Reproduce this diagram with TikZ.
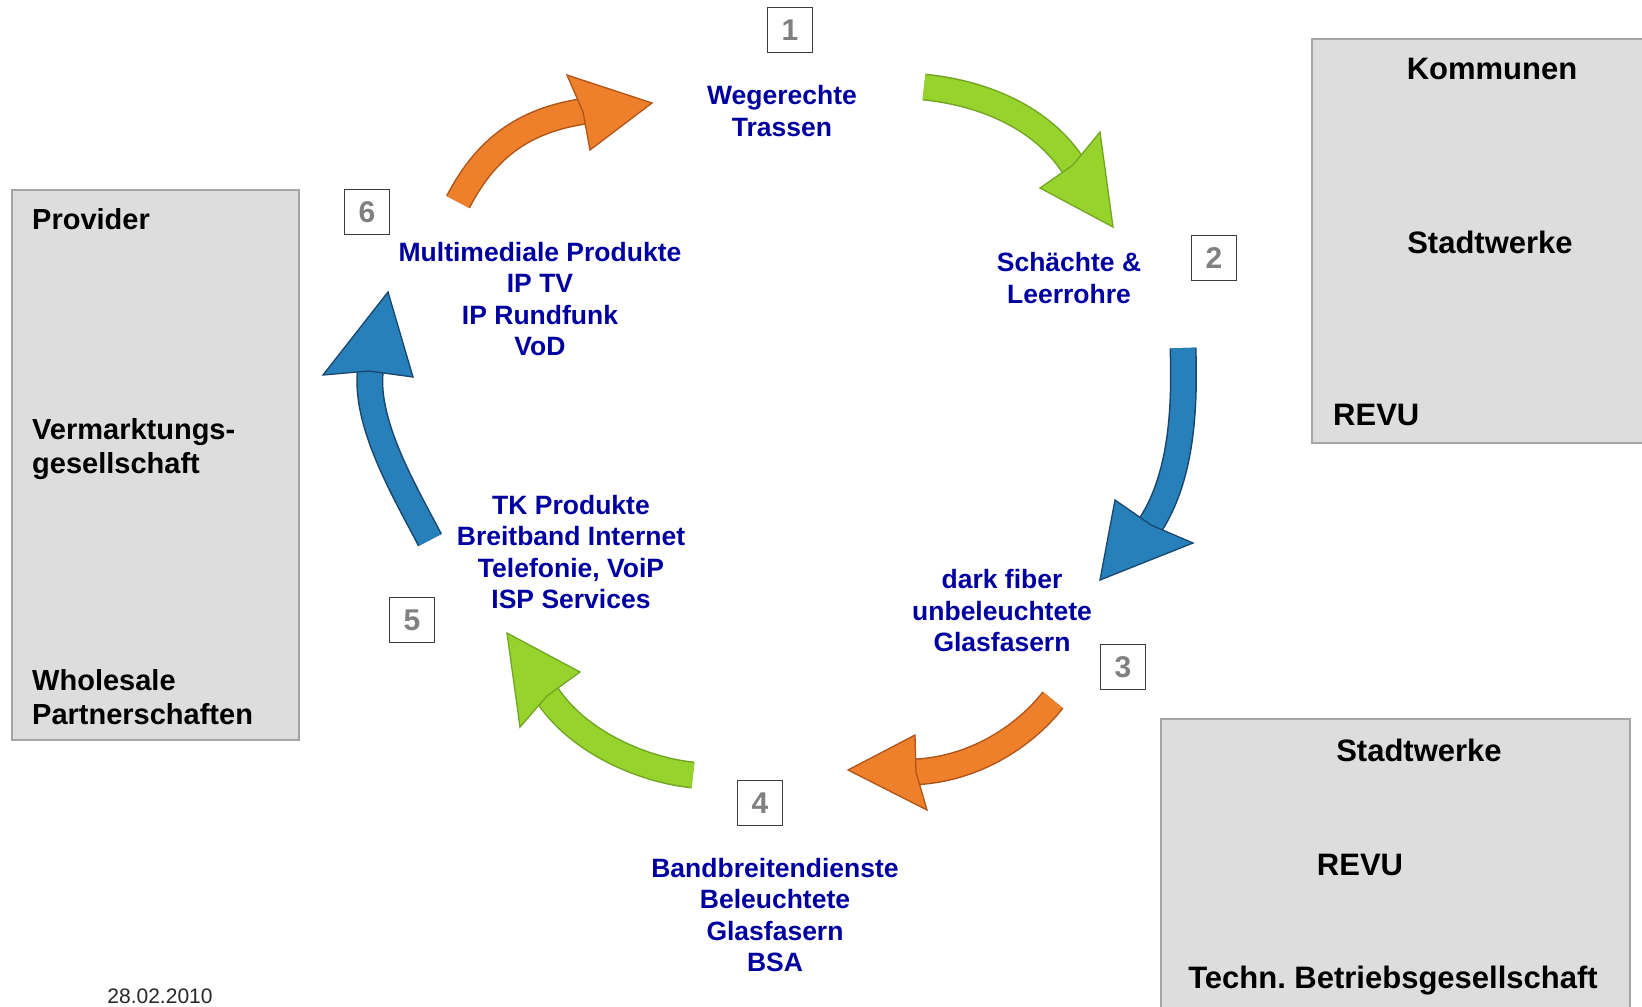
\documentclass[tikz,border=0pt]{standalone}
\usepackage{fontspec}
\setmainfont{Liberation Sans}
\frenchspacing
\definecolor{bluetxt}{RGB}{0,0,160}
\definecolor{boxgray}{RGB}{221,221,221}
\definecolor{boxedge}{RGB}{165,165,165}
\definecolor{numgray}{RGB}{128,128,128}
\definecolor{numedge}{RGB}{60,60,60}
\definecolor{orangef}{RGB}{238,128,44}
\definecolor{oranged}{RGB}{175,85,25}
\definecolor{greenf}{RGB}{150,212,45}
\definecolor{greend}{RGB}{115,165,35}
\definecolor{bluef}{RGB}{40,128,186}
\definecolor{blued}{RGB}{25,70,110}
\tikzset{
  graybox/.style={fill=boxgray,draw=boxedge,line width=1.2pt},
  numbox/.style={draw=numedge,line width=1.3pt,minimum width=45pt,minimum height=45pt,inner sep=0pt,
    text=numgray,font=\fontsize{30}{30}\selectfont\bfseries},
  bluetext/.style={text=bluetxt,align=center,inner sep=0pt,font=\fontsize{26.5}{31.5}\selectfont\bfseries},
  blacktext/.style={text=black,inner sep=0pt,font=\fontsize{31}{34}\selectfont\bfseries},
  lefttext/.style={text=black,inner sep=0pt,anchor=west,align=left,font=\fontsize{29}{34.5}\selectfont\bfseries},
  shaftout/.style={line width=27pt},
  shaftin/.style={line width=24pt},
  headstyle/.style={line width=1.3pt,line join=miter},
}
\begin{document}
\begin{tikzpicture}[x=1pt,y=-1pt]
\useasboundingbox (0,0) rectangle (1642,1007);
\clip (0,0) rectangle (1642,1007);
\fill[white] (0,0) rectangle (1642,1007);

% gray boxes
\draw[graybox] (12,190) rectangle (299,740);
\draw[graybox] (1312,39) rectangle (1660,443);
\draw[graybox] (1161,719) rectangle (1630,1020);

% left box text
\node[lefttext] (prov) at (32,219) {Provider};
\node[lefttext] (verm) at (32,449) {Vermarktungs-\\gesellschaft};
\node[lefttext] (whole) at (32,697) {Wholesale\\Partnerschaften};

% right top box text
\node[blacktext] (komm) at (1492,69) {Kommunen};
\node[blacktext] (stw1) at (1490,242) {Stadtwerke};
\node[blacktext,anchor=west] (revu1) at (1333,415) {REVU};

% right bottom box text
\node[blacktext] (stw2) at (1419,750) {Stadtwerke};
\node[blacktext] (revu2) at (1360,865) {REVU};
\node[blacktext] (techn) at (1393,981) {Techn. Betriebsgesellschaft};

% number boxes
\node[numbox] (n1) at (790,30) {1};
\node[numbox] (n2) at (1214,258) {2};
\node[numbox] (n3) at (1123,667) {3};
\node[numbox] (n4) at (760,803) {4};
\node[numbox] (n5) at (412,620) {5};
\node[numbox] (n6) at (367,212) {6};

% blue texts
\node[bluetext] (t1) at (782,111) {Wegerechte\\Trassen};
\node[bluetext] (t2) at (1069,278) {Schächte \&\\Leerrohre};
\node[bluetext] (t3) at (1002,611) {dark fiber\\unbeleuchtete\\Glasfasern};
\node[bluetext] (t4) at (775,915) {Bandbreitendienste\\Beleuchtete\\Glasfasern\\BSA};
\node[bluetext] (t5) at (571,552) {TK Produkte\\Breitband Internet\\Telefonie, VoiP\\ISP Services};
\node[bluetext] (t6) at (540,299) {Multimediale Produkte\\IP TV\\IP Rundfunk\\VoD};

% date
\node[inner sep=0pt,text={rgb,255:red,40;green,40;blue,40},font=\fontsize{21}{21}\selectfont] (date) at (160,996) {28.02.2010};

% ---- arrows ----
% 1 orange top
\coordinate (a1t) at (458,202); \coordinate (a1e) at (586,111);
\draw[oranged,shaftout] (a1t) .. controls (485,150) and (522,120) .. (a1e);
\draw[orangef,shaftin] (a1t) .. controls (485,150) and (522,120) .. (a1e);
\coordinate (a1p) at (652,103); \coordinate (a1b) at (567,75); \coordinate (a1c) at (590,150);
\filldraw[fill=orangef,draw=oranged,headstyle] (a1p) -- (a1b) -- (583,112) -- (a1c) -- cycle;

% 2 green top right
\coordinate (a2t) at (924,87); \coordinate (a2e) at (1074,167);
\draw[greend,shaftout] (a2t) .. controls (984,93) and (1043,118) .. (a2e);
\draw[greenf,shaftin] (a2t) .. controls (984,93) and (1043,118) .. (a2e);
\coordinate (a2p) at (1113,227); \coordinate (a2b) at (1100,132); \coordinate (a2c) at (1040,188);
\filldraw[fill=greenf,draw=greend,headstyle] (a2p) -- (a2b) -- (1073,165) -- (a2c) -- cycle;

% 3 blue right
\coordinate (a3t) at (1183,348); \coordinate (a3e) at (1149,527);
\draw[blued,shaftout] (a3t) .. controls (1185,408) and (1182,478) .. (a3e);
\draw[bluef,shaftin] (a3t) .. controls (1185,408) and (1182,478) .. (a3e);
\coordinate (a3p) at (1100,580); \coordinate (a3b) at (1115,500); \coordinate (a3c) at (1193,543);
\filldraw[fill=bluef,draw=blued,headstyle] (a3p) -- (a3b) -- (1151,525) -- (a3c) -- cycle;

% 4 orange bottom right
\coordinate (a4t) at (1053,700); \coordinate (a4e) at (913,772);
\draw[oranged,shaftout] (a4t) .. controls (1022,739) and (971,770) .. (a4e);
\draw[orangef,shaftin] (a4t) .. controls (1022,739) and (971,770) .. (a4e);
\coordinate (a4p) at (848,770); \coordinate (a4b) at (915,735); \coordinate (a4c) at (927,810);
\filldraw[fill=orangef,draw=oranged,headstyle] (a4p) -- (a4b) -- (916,772) -- (a4c) -- cycle;

% 5 green bottom left
\coordinate (a5t) at (693,775); \coordinate (a5e) at (546,693);
\draw[greend,shaftout] (a5t) .. controls (643,770) and (577,742) .. (a5e);
\draw[greenf,shaftin] (a5t) .. controls (643,770) and (577,742) .. (a5e);
\coordinate (a5p) at (507,633); \coordinate (a5b) at (580,672); \coordinate (a5c) at (520,727);
\filldraw[fill=greenf,draw=greend,headstyle] (a5p) -- (a5b) -- (547,696) -- (a5c) -- cycle;

% 6 blue left
\coordinate (a6t) at (430,540); \coordinate (a6e) at (371,366);
\draw[blued,shaftout] (a6t) .. controls (405,492) and (362,420) .. (a6e);
\draw[bluef,shaftin] (a6t) .. controls (405,492) and (362,420) .. (a6e);
\coordinate (a6p) at (388,292); \coordinate (a6b) at (323,375); \coordinate (a6c) at (413,377);
\filldraw[fill=bluef,draw=blued,headstyle] (a6p) -- (a6b) -- (369,371) -- (a6c) -- cycle;
\end{tikzpicture}
\end{document}
